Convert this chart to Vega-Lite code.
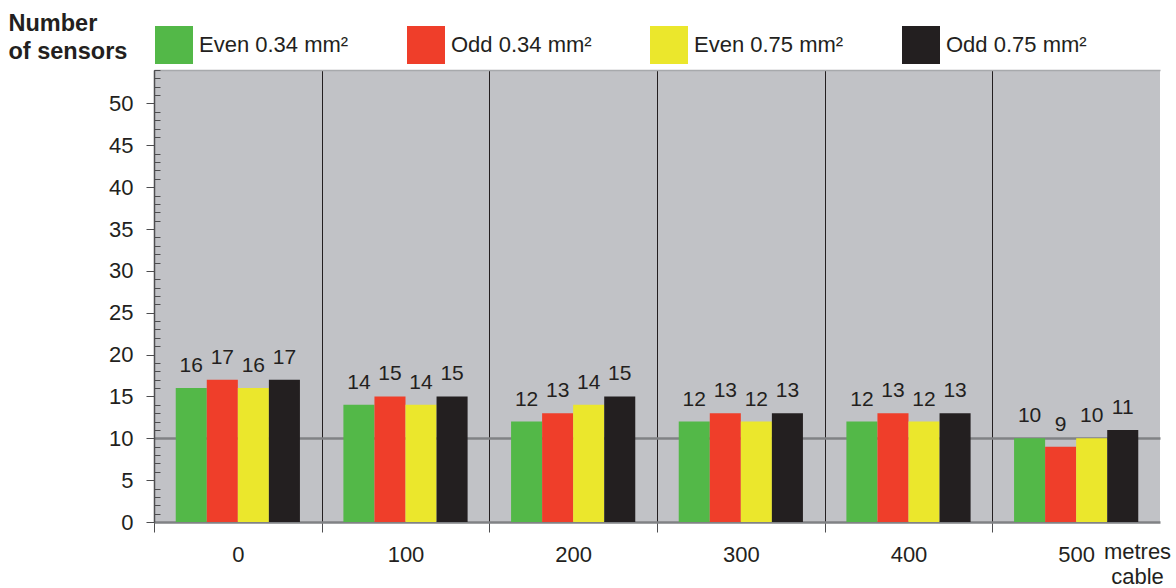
{
  "$schema": "https://vega.github.io/schema/vega-lite/v6.json",
  "width": 1006,
  "height": 452,
  "autosize": {"type": "none"},
  "padding": {"left": 154, "top": 70, "right": 16, "bottom": 66},
  "background": "#ffffff",
  "config": {
    "font": "Liberation Sans",
    "view": {"fill": "#c1c2c6", "stroke": null}
  },
  "data": {
    "values": [
      {"distance": "0", "type": "Even 0.34 mm²", "n": 16},
      {"distance": "0", "type": "Odd 0.34 mm²", "n": 17},
      {"distance": "0", "type": "Even 0.75 mm²", "n": 16},
      {"distance": "0", "type": "Odd 0.75 mm²", "n": 17},
      {"distance": "100", "type": "Even 0.34 mm²", "n": 14},
      {"distance": "100", "type": "Odd 0.34 mm²", "n": 15},
      {"distance": "100", "type": "Even 0.75 mm²", "n": 14},
      {"distance": "100", "type": "Odd 0.75 mm²", "n": 15},
      {"distance": "200", "type": "Even 0.34 mm²", "n": 12},
      {"distance": "200", "type": "Odd 0.34 mm²", "n": 13},
      {"distance": "200", "type": "Even 0.75 mm²", "n": 14},
      {"distance": "200", "type": "Odd 0.75 mm²", "n": 15},
      {"distance": "300", "type": "Even 0.34 mm²", "n": 12},
      {"distance": "300", "type": "Odd 0.34 mm²", "n": 13},
      {"distance": "300", "type": "Even 0.75 mm²", "n": 12},
      {"distance": "300", "type": "Odd 0.75 mm²", "n": 13},
      {"distance": "400", "type": "Even 0.34 mm²", "n": 12},
      {"distance": "400", "type": "Odd 0.34 mm²", "n": 13},
      {"distance": "400", "type": "Even 0.75 mm²", "n": 12},
      {"distance": "400", "type": "Odd 0.75 mm²", "n": 13},
      {"distance": "500", "type": "Even 0.34 mm²", "n": 10},
      {"distance": "500", "type": "Odd 0.34 mm²", "n": 9},
      {"distance": "500", "type": "Even 0.75 mm²", "n": 10},
      {"distance": "500", "type": "Odd 0.75 mm²", "n": 11}
    ]
  },
  "encoding": {
    "x": {
      "field": "distance",
      "type": "ordinal",
      "sort": ["0", "100", "200", "300", "400", "500"],
      "scale": {"paddingInner": 0, "paddingOuter": 0},
      "axis": {
        "title": ["metres", "cable"],
        "titleX": 983,
        "titleY": 36,
        "titleAlign": "center",
        "titleBaseline": "alphabetic",
        "titleFontSize": 22,
        "titleFontWeight": "normal",
        "titleColor": "#231f20",
        "titleLineHeight": 25,
        "labelAngle": 0,
        "labelFontSize": 22,
        "labelColor": "#231f20",
        "labelPadding": 12,
        "tickBand": "extent",
        "tickSize": 10,
        "tickColor": "#4d4d4f",
        "tickWidth": 1,
        "tickOpacity": {"condition": {"test": "datum.value === '500'", "value": 0}, "value": 1},
        "grid": true,
        "gridColor": "#231f20",
        "gridWidth": 1,
        "gridOpacity": {"condition": {"test": "datum.value === '500'", "value": 0}, "value": 1},
        "domainColor": "#808285",
        "domainWidth": 2.5
      }
    },
    "xOffset": {
      "field": "type",
      "type": "nominal",
      "sort": ["Even 0.34 mm²", "Odd 0.34 mm²", "Even 0.75 mm²", "Odd 0.75 mm²"],
      "scale": {"paddingInner": 0, "paddingOuter": 0.7}
    },
    "y": {
      "field": "n",
      "type": "quantitative",
      "scale": {"domain": [0, 54], "nice": false},
      "axis": {
        "values": [0,1,2,3,4,5,6,7,8,9,10,11,12,13,14,15,16,17,18,19,20,21,22,23,24,25,26,27,28,29,30,31,32,33,34,35,36,37,38,39,40,41,42,43,44,45,46,47,48,49,50,51,52,53,54],
        "labelExpr": "datum.value % 5 === 0 && datum.value <= 50 ? datum.label : ''",
        "labelFontSize": 22,
        "labelColor": "#231f20",
        "labelPadding": 13,
        "tickSize": {"condition": {"test": "datum.value % 5 === 0 && datum.value <= 50", "value": 8}, "value": -6},
        "tickColor": "#4d4d4f",
        "tickWidth": 1,
        "domainColor": "#4d4d4f",
        "domainWidth": 1.5,
        "grid": true,
        "gridColor": {"condition": {"test": "datum.value === 10", "value": "#808285"}, "value": "#a7a9ac"},
        "gridWidth": {"condition": {"test": "datum.value === 10", "value": 2.5}, "value": 1.5},
        "gridOpacity": {"condition": {"test": "datum.value === 10 || datum.value === 54", "value": 1}, "value": 0},
        "title": ["Number", "of sensors"],
        "titleAngle": 0,
        "titleAlign": "left",
        "titleBaseline": "alphabetic",
        "titleX": -146,
        "titleY": -40,
        "titleFontSize": 23.5,
        "titleFontWeight": "bold",
        "titleColor": "#231f20",
        "titleLineHeight": 28
      }
    }
  },
  "layer": [
    {
      "mark": {"type": "bar"},
      "encoding": {
        "color": {
          "field": "type",
          "type": "nominal",
          "sort": ["Even 0.34 mm²", "Odd 0.34 mm²", "Even 0.75 mm²", "Odd 0.75 mm²"],
          "scale": {
            "domain": ["Even 0.34 mm²", "Odd 0.34 mm²", "Even 0.75 mm²", "Odd 0.75 mm²"],
            "range": ["#53b848", "#ef3e2a", "#ebe72c", "#231f20"]
          },
          "legend": {
            "title": null,
            "orient": "none",
            "legendX": 1,
            "legendY": -44,
            "direction": "horizontal",
            "columns": 4,
            "symbolType": "square",
            "symbolSize": 1444,
            "symbolStrokeWidth": 0,
            "symbolOpacity": 1,
            "labelFontSize": 22,
            "labelColor": "#231f20",
            "labelOffset": 6,
            "columnPadding": 58,
            "gridAlign": "none"
          }
        }
      }
    },
    {
      "mark": {"type": "text", "baseline": "alphabetic", "dy": -16, "fontSize": 21, "color": "#231f20"},
      "encoding": {
        "text": {"field": "n", "type": "quantitative"}
      }
    }
  ]
}
